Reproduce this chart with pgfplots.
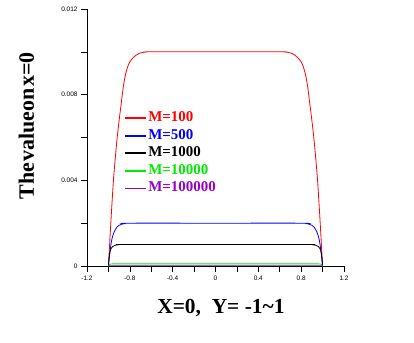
\documentclass[border=0pt]{standalone}
\usepackage{pgfplots}
\pgfplotsset{compat=1.18}
\usepackage{fontspec}
\setmainfont{Liberation Serif}
\newfontfamily\tickfont{Liberation Sans}
\definecolor{mpurple}{RGB}{150,0,200}
\definecolor{mgreen}{RGB}{0,235,0}
\begin{document}
\begin{tikzpicture}
\begin{axis}[
  at={(0,0)}, anchor=south west,
  scale only axis, width=257bp, height=257bp,
  xmin=-1.2, xmax=1.2, ymin=0, ymax=0.012,
  axis lines=left, axis line style={-, line width=0.8bp},
  clip=false,
  tick align=outside,
  major tick length=6bp, minor tick length=6bp,
  tick style={black, line width=0.6bp},
  xtick={-1.2,-0.8,-0.4,0,0.4,0.8,1.2},
  xticklabels={-1.2,-0.8,-0.4,0,0.4,0.8,1.2},
  minor xtick={-1,-0.6,-0.2,0.2,0.6,1},
  ytick={0,0.004,0.008,0.012},
  yticklabels={0,0.004,0.008,0.012},
  minor ytick={0.002,0.006,0.01},
  scaled y ticks=false,
  ticklabel style={font=\tickfont\fontsize{6.5}{7}\selectfont},
  xlabel={X=0,\ \ Y= -1\textasciitilde 1},
  ylabel={{\spaceskip=1pt The value on x=0}},
  every axis x label/.style={at={(axis description cs:0.521,0)}, yshift=-42bp, anchor=center, font=\bfseries\fontsize{21.5}{24}\selectfont},
  every axis y label/.style={at={(axis description cs:0,0.545)}, xshift=-60.5bp, anchor=center, rotate=90, font=\bfseries\fontsize{22}{26}\selectfont},
  legend cell align=left,
  legend image code/.code={\draw[#1] (0bp,0bp) -- (21bp,0bp);},
  legend style={at={(axis description cs:0.133,0.612)}, anchor=north west, draw=none, fill=none,
    font=\bfseries\fontsize{15}{16}\selectfont, row sep=3.6bp, column sep=0bp,
    nodes={inner sep=1bp, text height=9.5bp, text depth=2.5bp}},
]
\addlegendimage{draw=red, line width=2bp}
\addlegendentry{\textcolor{red}{M=100}}
\addlegendimage{draw=blue, line width=2bp}
\addlegendentry{\textcolor{blue}{M=500}}
\addlegendimage{draw=black, line width=2bp}
\addlegendentry{\textcolor{black}{M=1000}}
\addlegendimage{draw=mgreen, line width=2bp}
\addlegendentry{\textcolor{mgreen}{M=10000}}
\addlegendimage{draw=mpurple, line width=1bp}
\addlegendentry{\textcolor{mpurple}{M=100000}}
\addplot[red, line width=0.8bp, smooth, forget plot] coordinates {
(-1,0) (-0.99,0.0009) (-0.98,0.0018) (-0.97,0.00265) (-0.954,0.00394) (-0.94,0.0048) (-0.92,0.0059) (-0.9,0.0068) (-0.88,0.0076) (-0.86,0.0084) (-0.84,0.00895) (-0.82,0.0093) (-0.8,0.00953) (-0.77,0.00972) (-0.74,0.00985) (-0.7,0.00995) (-0.65,0.00999) (-0.6,0.01) (0,0.01) (0.6,0.01) (0.65,0.00999) (0.7,0.00995) (0.74,0.00985) (0.77,0.00972) (0.8,0.00953) (0.82,0.0093) (0.84,0.00895) (0.86,0.0084) (0.88,0.0076) (0.9,0.0068) (0.92,0.0059) (0.94,0.0048) (0.954,0.00394) (0.97,0.00265) (0.98,0.0018) (0.99,0.0009) (1,0)
};
\addplot[blue, line width=0.8bp, smooth, forget plot] coordinates {
(-1,0) (-0.99,0.0005) (-0.98,0.00088) (-0.969,0.00122) (-0.955,0.00148) (-0.938,0.00168) (-0.92,0.00182) (-0.9,0.0019) (-0.876,0.00195) (-0.85,0.00198) (-0.8,0.002) (0,0.002) (0.8,0.002) (0.85,0.00198) (0.876,0.00195) (0.9,0.0019) (0.92,0.00182) (0.938,0.00168) (0.955,0.00148) (0.969,0.00122) (0.98,0.00088) (0.99,0.0005) (1,0)
};
\addplot[black, line width=0.8bp, smooth, forget plot] coordinates {
(-1,0) (-0.995,0.0003) (-0.99,0.00052) (-0.984,0.0007) (-0.975,0.00082) (-0.96,0.00091) (-0.94,0.00096) (-0.92,0.000985) (-0.9,0.000995) (-0.87,0.001) (0,0.001) (0.87,0.001) (0.9,0.000995) (0.92,0.000985) (0.94,0.00096) (0.96,0.00091) (0.975,0.00082) (0.984,0.0007) (0.99,0.00052) (0.995,0.0003) (1,0)
};
\addplot[mgreen, line width=0.8bp, forget plot] coordinates {
(-1,0) (-0.99,0.00007) (-0.98,0.00009) (-0.96,0.0001) (0,0.0001) (0.96,0.0001) (0.98,0.00009) (0.99,0.00007) (1,0)
};
\addplot[mpurple, line width=0.8bp, forget plot] coordinates {
(-1,0) (-0.995,0.00001) (0,0.00001) (0.995,0.00001) (1,0)
};
\end{axis}
\pgfresetboundingbox
\path (-87bp,-77bp) rectangle (327bp,266bp);
\end{tikzpicture}
\end{document}
